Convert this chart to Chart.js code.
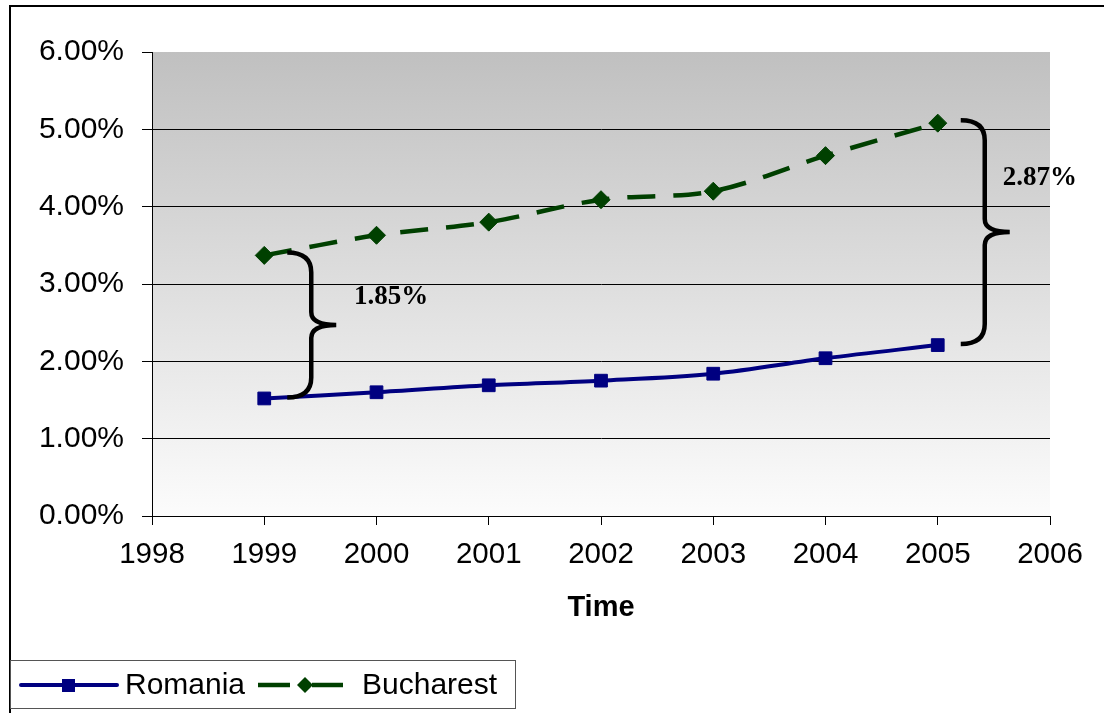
<!DOCTYPE html>
<html>
<head>
<meta charset="utf-8">
<script src="https://cdn.jsdelivr.net/npm/chart.js@4/dist/chart.umd.min.js"></script>
<style>
  html, body { margin: 0; padding: 0; background: #fff; }
  #wrap { width: 1104px; height: 713px; position: relative; }
</style>
</head>
<body>
<div id="wrap"><canvas id="c" width="1104" height="713"></canvas></div>
<script>
// Share of population (%) by year
const years = [1999, 2000, 2001, 2002, 2003, 2004, 2005];
const romania = [1.52, 1.60, 1.69, 1.75, 1.84, 2.04, 2.21];
const bucharest = [3.37, 3.63, 3.80, 4.09, 4.20, 4.66, 5.08];

// Axis ticks
const xTicks = [1998, 1999, 2000, 2001, 2002, 2003, 2004, 2005, 2006];
const yTicks = [0, 1, 2, 3, 4, 5, 6];

// Years where the gap between the two series is marked with a brace
const gapYears = [1999, 2005];
// Where each gap label sits (year, percent)
const gapLabelAt = [[2000.13, 2.83], [2005.91, 4.37]];

const SANS = '"Liberation Sans", Arial, sans-serif';
const SERIF = '"Liberation Serif", "Times New Roman", serif';
const NAVY = '#000080';
const GREEN = '#004000';

const toPoints = (vals) => years.map((y, i) => ({ x: y, y: vals[i] }));

// Plot background, outer frame
const backdrop = {
  id: 'backdrop',
  beforeDraw(chart) {
    const { ctx, chartArea: a } = chart;
    ctx.save();
    ctx.fillStyle = '#fff';
    ctx.fillRect(0, 0, chart.width, chart.height);
    const g = ctx.createLinearGradient(0, a.top, 0, a.bottom);
    g.addColorStop(0, '#c0c0c0');
    g.addColorStop(1, '#fcfcfc');
    ctx.fillStyle = g;
    ctx.fillRect(a.left, a.top, a.right - a.left, a.bottom - a.top);
    ctx.fillStyle = '#000';
    ctx.fillRect(9, 5, chart.width - 9, 2);
    ctx.fillRect(9, 5, 2, chart.height - 5);
    ctx.restore();
  }
};

function drawBrace(ctx, ex, sx, tx, yTop, yBot) {
  const yMid = (yTop + yBot) / 2;
  const rEnd = 20, rMid = 13;
  ctx.beginPath();
  ctx.moveTo(ex, yTop);
  ctx.quadraticCurveTo(sx, yTop, sx, yTop + rEnd);
  ctx.lineTo(sx, yMid - rMid);
  ctx.quadraticCurveTo(sx, yMid, tx, yMid);
  ctx.quadraticCurveTo(sx, yMid, sx, yMid + rMid);
  ctx.lineTo(sx, yBot - rEnd);
  ctx.quadraticCurveTo(sx, yBot, ex, yBot);
  ctx.stroke();
}

// Gap braces with their labels
const gapBraces = {
  id: 'gapBraces',
  afterDraw(chart) {
    const { ctx, scales: { x, y } } = chart;
    ctx.save();
    ctx.strokeStyle = '#000';
    ctx.lineWidth = 4.5;
    ctx.fillStyle = '#000';
    ctx.font = 'bold 27px ' + SERIF;
    ctx.textAlign = 'center';
    ctx.textBaseline = 'middle';
    gapYears.forEach((yr, k) => {
      const i = years.indexOf(yr);
      const px = x.getPixelForValue(yr);
      const yTop = y.getPixelForValue(bucharest[i]) - 3;
      const yBot = y.getPixelForValue(romania[i]) - 1;
      drawBrace(ctx, px + 23, px + 47, px + 72, yTop, yBot);
      const gap = (bucharest[i] - romania[i]).toFixed(2) + '%';
      ctx.fillText(gap, x.getPixelForValue(gapLabelAt[k][0]), y.getPixelForValue(gapLabelAt[k][1]));
    });
    ctx.restore();
  }
};

// Legend box under the axis
const legendBox = {
  id: 'legendBox',
  afterDraw(chart) {
    const { ctx } = chart;
    const ds = chart.data.datasets;
    const cy = 685;
    ctx.save();
    ctx.strokeStyle = '#555';
    ctx.lineWidth = 1;
    ctx.strokeRect(10.5, 660.5, 505, 48);

    // first series
    ctx.strokeStyle = NAVY;
    ctx.lineWidth = 4;
    ctx.lineCap = 'round';
    ctx.beginPath(); ctx.moveTo(21, cy); ctx.lineTo(117, cy); ctx.stroke();
    ctx.fillStyle = NAVY;
    ctx.fillRect(62, cy - 6, 13, 13);

    // second series
    ctx.strokeStyle = GREEN;
    ctx.lineWidth = 4.5;
    ctx.lineCap = 'butt';
    ctx.beginPath(); ctx.moveTo(258, cy); ctx.lineTo(290, cy); ctx.stroke();
    ctx.beginPath(); ctx.moveTo(312, cy); ctx.lineTo(343, cy); ctx.stroke();
    ctx.fillStyle = GREEN;
    ctx.beginPath();
    ctx.moveTo(305, cy - 8); ctx.lineTo(313, cy); ctx.lineTo(305, cy + 8); ctx.lineTo(297, cy);
    ctx.closePath(); ctx.fill();

    ctx.fillStyle = '#000';
    ctx.font = '30px ' + SANS;
    ctx.textBaseline = 'middle';
    ctx.textAlign = 'left';
    ctx.fillText(ds[0].label, 125, cy + 1);
    ctx.fillText(ds[1].label, 362, cy + 1);
    ctx.restore();
  }
};

new Chart(document.getElementById('c'), {
  type: 'line',
  data: {
    datasets: [
      {
        label: 'Romania',
        data: toPoints(romania),
        borderColor: NAVY,
        backgroundColor: NAVY,
        borderWidth: 4,
        tension: 0.33,
        pointStyle: 'rect',
        pointRadius: 9,
        pointBorderWidth: 1,
        pointBorderColor: NAVY,
        pointBackgroundColor: NAVY,
        fill: false
      },
      {
        label: 'Bucharest',
        data: toPoints(bucharest),
        borderColor: GREEN,
        backgroundColor: GREEN,
        borderWidth: 4.5,
        borderDash: [28, 18],
        tension: 0.33,
        pointStyle: 'rectRot',
        pointRadius: 9,
        pointBorderWidth: 1,
        pointBorderColor: GREEN,
        pointBackgroundColor: GREEN,
        fill: false
      }
    ]
  },
  options: {
    responsive: false,
    animation: false,
    events: [],
    layout: { padding: { left: 0, top: 52, right: 54, bottom: 77 } },
    plugins: { legend: { display: false }, tooltip: { enabled: false } },
    scales: {
      x: {
        type: 'linear',
        min: xTicks[0],
        max: xTicks[xTicks.length - 1],
        afterBuildTicks: (s) => { s.ticks = xTicks.map(v => ({ value: v })); },
        afterFit: (s) => { s.height = 120; },
        ticks: {
          callback: (v) => String(v),
          color: '#000',
          font: { family: SANS, size: 29.5 },
          padding: 12,
          maxRotation: 0,
          autoSkip: false
        },
        grid: { drawOnChartArea: false, drawTicks: true, tickLength: 9, tickColor: '#000', tickWidth: 1 },
        border: { color: '#000', width: 1 },
        title: {
          display: true,
          text: 'Time',
          color: '#000',
          font: { family: SANS, size: 29, weight: 'bold' },
          padding: { top: 0, bottom: 11 }
        }
      },
      y: {
        min: yTicks[0],
        max: yTicks[yTicks.length - 1],
        afterBuildTicks: (s) => { s.ticks = yTicks.map(v => ({ value: v })); },
        afterFit: (s) => { s.width = 152; },
        ticks: {
          callback: (v) => v.toFixed(2) + '%',
          color: '#000',
          font: { family: SANS, size: 30 },
          padding: 18
        },
        grid: {
          color: (c) => (c.tick && c.tick.value === yTicks[yTicks.length - 1]) ? 'rgba(0,0,0,0)' : '#000',
          lineWidth: 1,
          tickColor: '#000',
          tickLength: 10,
          drawTicks: true
        },
        border: { color: '#000', width: 1 }
      }
    }
  },
  plugins: [backdrop, gapBraces, legendBox]
});
</script>
</body>
</html>
